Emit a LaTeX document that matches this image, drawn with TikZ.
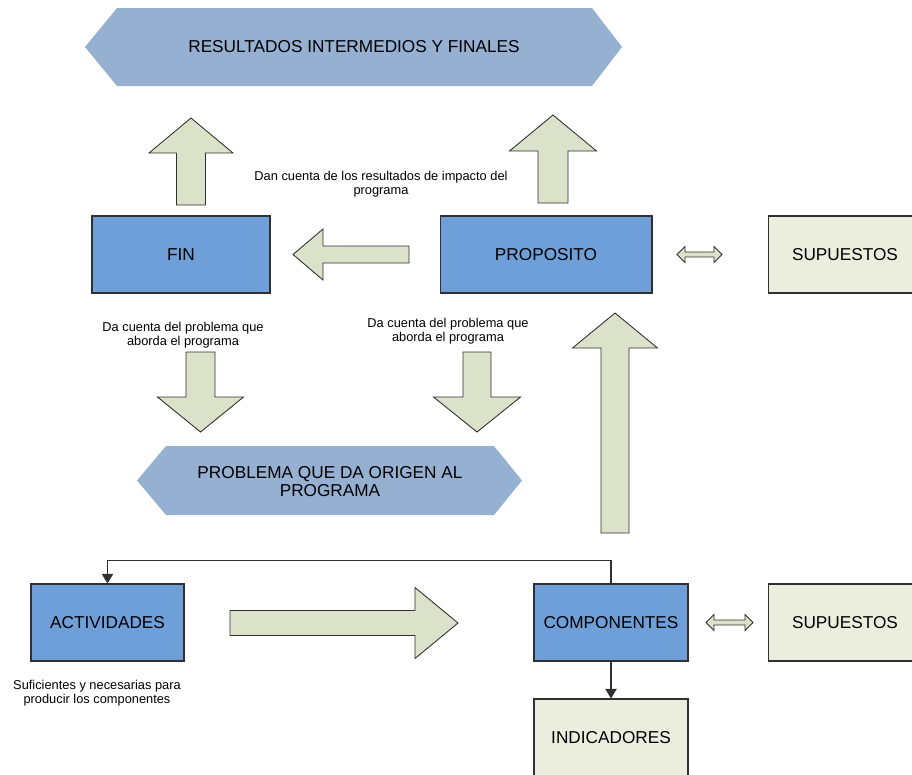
\documentclass[tikz,border=0pt]{standalone}
\usepackage{fontspec}
\setmainfont{Liberation Sans}
\usetikzlibrary{arrows.meta}
\definecolor{boxblue}{HTML}{6F9FD9}
\definecolor{hexblue}{HTML}{95B0D1}
\definecolor{arrowfill}{HTML}{DCE1CA}
\definecolor{palefill}{HTML}{EBEEDF}
\definecolor{edgegray}{HTML}{303030}
\tikzset{
  boxbase/.style={draw=edgegray, line width=0.6pt, inner sep=0pt,
    minimum height=1.54cm, font=\fontsize{9.8}{10.2}\selectfont, align=center},
  bluebox/.style={boxbase, fill=boxblue},
  palebox/.style={boxbase, fill=palefill},
  hextext/.style={inner sep=0pt, align=center, font=\fontsize{9.8}{10.2}\selectfont},
  hexshape/.style={fill=hexblue},
  note/.style={inner sep=0pt, align=center, font=\fontsize{7.3}{8.3}\selectfont},
  blockarrow/.style={draw=edgegray, line width=0.5pt, fill=arrowfill, line join=miter},
  conn/.style={draw=edgegray, line width=0.6pt, -{Triangle[length=5.5pt,width=6.5pt]}}
}
% vertical block arrow: cx, tip y, head base y, tail y, head half width, shaft half width
\newcommand\vblockarrow[6]{%
  \draw[blockarrow] ({#1-#6},#4) -- ({#1-#6},#3) -- ({#1-#5},#3) -- (#1,#2)
    -- ({#1+#5},#3) -- ({#1+#6},#3) -- ({#1+#6},#4) -- cycle;}
% horizontal block arrow: cy, tip x, head base x, tail x, head half height, shaft half height
\newcommand\hblockarrow[6]{%
  \draw[blockarrow] (#4,{#1-#6}) -- (#3,{#1-#6}) -- (#3,{#1-#5}) -- (#2,#1)
    -- (#3,{#1+#5}) -- (#3,{#1+#6}) -- (#4,{#1+#6}) -- cycle;}
% small double arrow: cy, left x, right x
\newcommand\dblarrow[3]{%
  \draw[blockarrow] (#2,#1) -- ({#2+8},{#1-8}) -- ({#2+8},{#1-2.5}) -- ({#3-8},{#1-2.5})
    -- ({#3-8},{#1-8}) -- (#3,#1) -- ({#3-8},{#1+8}) -- ({#3-8},{#1+2.5})
    -- ({#2+8},{#1+2.5}) -- ({#2+8},{#1+8}) -- cycle;}
\begin{document}
\begin{tikzpicture}[x=0.02cm, y=-0.02cm]
\useasboundingbox (0,0) rectangle (912,774);
\clip (0,0) rectangle (912,774);

% top hexagon
\fill[hexshape] (85,47) -- (117,8) -- (592,8) -- (622,47) -- (592,86) -- (117,86) -- cycle;
\node[hextext] (res) at (354,47) {RESULTADOS INTERMEDIOS Y FINALES};

% problem hexagon
\fill[hexshape] (137,480.5) -- (166,446) -- (494,446) -- (522,480.5) -- (494,515) -- (166,515) -- cycle;
\node[hextext] (prob) at (330,482) {PROBLEMA QUE DA ORIGEN AL\\PROGRAMA};

% boxes
\node[bluebox, minimum width=3.56cm] (fin) at (181,254.5) {FIN};
\node[bluebox, minimum width=4.24cm] (prop) at (546,254.5) {PROPOSITO};
\node[palebox, minimum width=3.08cm] (sup1) at (845,254.5) {SUPUESTOS};
\node[bluebox, minimum width=3.06cm] (act) at (107.5,622.5) {ACTIVIDADES};
\node[bluebox, minimum width=3.08cm] (comp) at (611,622.5) {COMPONENTES};
\node[palebox, minimum width=3.08cm] (sup2) at (845,622.5) {SUPUESTOS};
\node[palebox, minimum width=3.08cm] (ind) at (611,737.5) {INDICADORES};

% notes
\node[note] (n1) at (381,184) {Dan cuenta de los resultados de impacto del\\programa};
\node[note] (n2) at (183,335) {Da cuenta del problema que\\aborda el programa};
\node[note] (n3) at (448,331) {Da cuenta del problema que\\aborda el programa};
\node[note] (n4) at (97,693) {Suficientes y necesarias para\\producir los componentes};

% block arrows
\vblockarrow{191}{118}{153}{205}{42}{14.5}
\vblockarrow{553}{115}{151}{203}{43.5}{15}
\hblockarrow{254.5}{293}{323}{409}{25.5}{8.5}
\vblockarrow{200.5}{432}{397}{352}{43}{14.5}
\vblockarrow{477}{432}{397}{352}{43.5}{14}
\vblockarrow{615}{313}{348}{533}{42.5}{14}
\hblockarrow{623}{458}{415}{230}{35.5}{12.5}
\dblarrow{254.5}{677}{722}
\dblarrow{622.5}{706}{753}

% connectors
\draw[conn] (comp.north) -- ++(0,-23) -| (act.north);
\draw[conn] (comp.south) -- (ind.north);
\end{tikzpicture}
\end{document}
